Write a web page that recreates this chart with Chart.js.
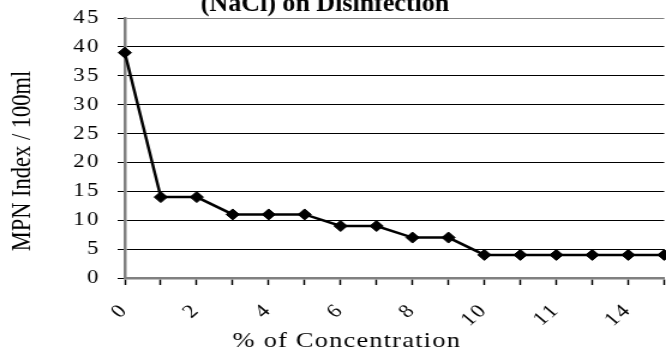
<!DOCTYPE html>
<html>
<head>
<meta charset="utf-8">
<script src="https://cdn.jsdelivr.net/npm/chart.js@4"></script>
<style>
  html, body { margin: 0; padding: 0; overflow: hidden; background: #fff; width: 666px; height: 356px; }
  #wrap { transform: scaleX(1.2); transform-origin: 0 0; width: 560px; height: 356px; }
  canvas { display: block; }
</style>
</head>
<body>
<div id="wrap"><canvas id="c" width="560" height="356"></canvas></div>
<script>
// ---- data ----
const chartTitle = '(NaCl) on Disinfection';
const xTitle = '% of Concentration';
const yTitle = 'MPN Index / 100ml';
const categories = ['0', '1', '2', '3', '4', '5', '6', '7', '8', '9', '10', '10.5', '11', '12', '14', '15'];
const mpnIndex = [39, 14, 14, 11, 11, 11, 9, 9, 7, 7, 4, 4, 4, 4, 4, 4];
const yMin = 0;
const yMax = 45;
const yStep = 5;

const SERIF = '"Liberation Serif", "Times New Roman", serif';
const STRETCH = 1.2;

const textPlugin = {
  id: 'texts',
  beforeDraw(chart) { chart.ctx.letterSpacing = '2px'; },
  afterDraw(chart) {
    const ctx = chart.ctx;
    ctx.save();
    ctx.letterSpacing = '0px';
    ctx.fillStyle = '#000';
    ctx.textAlign = 'center';
    ctx.textBaseline = 'alphabetic';
    // chart title (partly cut off by the top edge)
    ctx.save();
    ctx.scale(1 / STRETCH, 1);
    ctx.font = 'bold 26px ' + SERIF;
    ctx.fillText(chartTitle, 325, 11);
    ctx.restore();
    // x axis title
    ctx.letterSpacing = '1px';
    ctx.font = '22px ' + SERIF;
    ctx.fillText(xTitle, 289, 347);
    // y axis title
    ctx.letterSpacing = '0px';
    ctx.translate(19, 161);
    ctx.rotate(-Math.PI / 2);
    ctx.textBaseline = 'middle';
    ctx.font = '22.5px ' + SERIF;
    ctx.fillText(yTitle, 0, 0);
    ctx.restore();
    ctx.letterSpacing = '0px';
  }
};

new Chart(document.getElementById('c'), {
  type: 'line',
  data: {
    labels: categories,
    datasets: [{
      data: mpnIndex,
      borderColor: '#000',
      backgroundColor: '#000',
      borderWidth: 2.5,
      tension: 0,
      pointStyle: 'rectRot',
      pointRadius: 5.5,
      pointHoverRadius: 5.5,
      pointBackgroundColor: '#000',
      pointBorderColor: '#000',
      pointBorderWidth: 1
    }]
  },
  options: {
    responsive: false,
    animation: false,
    devicePixelRatio: 1,
    layout: { padding: { left: 0, right: 2, top: 18, bottom: 0 } },
    plugins: { legend: { display: false }, title: { display: false }, tooltip: { enabled: false } },
    scales: {
      x: {
        type: 'category',
        offset: false,
        grid: { display: true, drawOnChartArea: false, drawTicks: true, tickLength: 7, tickColor: '#000', tickWidth: 1.5 },
        border: { display: true, color: '#808080', width: 2.5 },
        ticks: {
          autoSkip: false,
          maxRotation: 45,
          minRotation: 45,
          padding: 14,
          color: '#000',
          font: { family: SERIF, size: 19 },
          callback: (v, i) => (i % 2 === 0 ? categories[i] : '')
        },
        afterFit: s => { s.height = 78; s.paddingLeft = 0; s.paddingRight = 0; }
      },
      y: {
        min: yMin,
        max: yMax,
        grid: {
          color: c => (c.tick && (c.tick.value === yMax || c.tick.value === yMin) ? '#808080' : '#000'),
          lineWidth: 1,
          drawTicks: true,
          tickLength: 6,
          tickColor: '#000'
        },
        border: { display: true, color: '#808080', width: 2.5 },
        ticks: {
          stepSize: yStep,
          padding: 14,
          color: '#000',
          font: { family: SERIF, size: 19 }
        },
        afterFit: s => { s.width = 104; s.paddingTop = 0; s.paddingBottom = 0; }
      }
    }
  },
  plugins: [textPlugin]
});
</script>
</body>
</html>
